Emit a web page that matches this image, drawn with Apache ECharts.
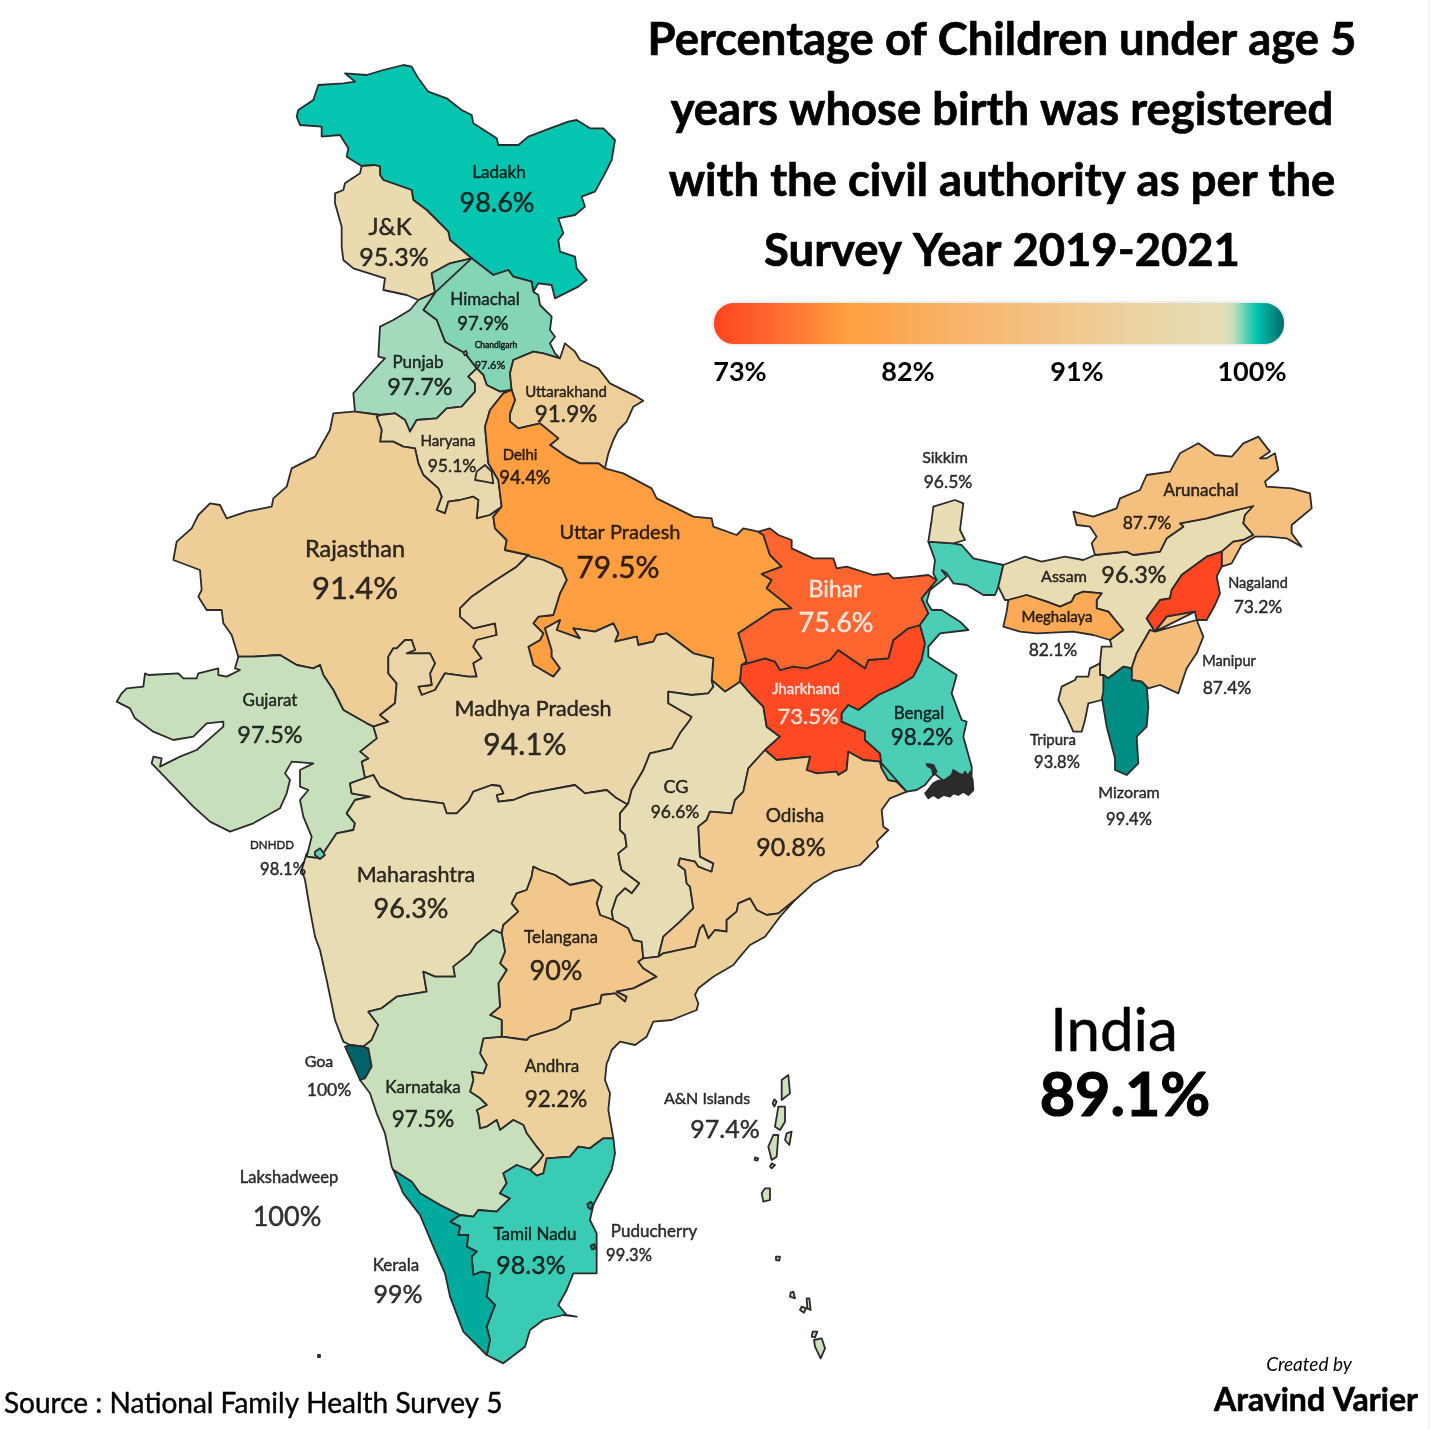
<!DOCTYPE html>
<html><head><meta charset="utf-8">
<style>html,body{margin:0;padding:0;background:#fff}#c{width:1430px;height:1430px}</style>
<script src="https://cdn.jsdelivr.net/npm/echarts@6/dist/echarts.min.js"></script>
</head><body><div id="c"></div>
<script>
// ---------- data ----------
const stateNames = ['Ladakh','J&K','Himachal','Chandigarh','Punjab','Uttarakhand','Haryana','Delhi','Rajasthan','Uttar Pradesh','Bihar','Jharkhand','Bengal','Sikkim','Arunachal','Assam','Nagaland','Meghalaya','Manipur','Tripura','Mizoram','Gujarat','Madhya Pradesh','CG','Odisha','DNHDD','Maharashtra','Telangana','Goa','Karnataka','Andhra','A&N Islands','Lakshadweep','Kerala','Tamil Nadu','Puducherry'];
const stateValues = [98.6,95.3,97.9,97.6,97.7,91.9,95.1,94.4,91.4,79.5,75.6,73.5,98.2,96.5,87.7,96.3,73.2,82.1,87.4,93.8,99.4,97.5,94.1,96.6,90.8,98.1,96.3,90,100,97.5,92.2,97.4,100,99,98.3,99.3];
const legendTicks = ['73%','82%','91%','100%'];
const titleLines = ['Percentage of Children under age 5','years whose birth was registered','with the civil authority as per the','Survey Year 2019-2021'];
const nationalValue = '89.1%';
// colour ramp: [value, colour]
const rampStops = [[73,'#FF4320'],[76,'#FF6A30'],[79.4,'#FF9F40'],[85,'#F8B56C'],[90.5,'#F1C98F'],[92.5,'#ECD29F'],[95,'#E9D9AE'],[97,'#E7DEB6'],[97.5,'#C8DFBC'],[97.7,'#A4DABB'],[97.9,'#84D4B6'],[98.2,'#4CCDB6'],[98.6,'#04C6B0'],[99,'#00AA9C'],[99.4,'#008E84'],[100,'#00636A']];

// ---------- label placement (separate from the values) ----------
const nameAt = [[499,172],[390,226],[485,299],[496,344],[418,362],[566,391],[448,440],[520,454],[355,548],[620,532],[835,589],[806,688],[919,713],[945,457],[1201,490],[1064,576],[1258,582],[1057,616],[1229,660],[1053,739],[1129,792],[270,700],[533,708],[676,786],[795,815],[272,844],[416,874],[561,937],[319,1061],[423,1087],[552,1066],[707,1098],[289,1177],[396,1265],[535,1234],[654,1231]];
const valueAt = [[497,202],[394,256],[483,323],[490,364],[420,386],[566,413],[452,465],[525,477],[355,587],[618,567],[836,622],[808,715],[922,736],[948,481],[1147,522],[1134,574],[1258,606],[1053,649],[1227,687],[1057,761],[1129,818],[270,734],[525,744],[675,811],[791,846],[283,868],[411,908],[556,970],[329,1089],[423,1118],[556,1098],[725,1128],[287,1216],[398,1293],[531,1264],[629,1254]];
const nameSize = [17,24,17,8.5,17,15,15,15,23.5,20,23,15,17,16,17,16,14.5,15,14.5,15,16,17,21.5,18,19,11.5,21.5,17,16,17,17,16,16.5,17,17,17];
const valueSize = [27,25,18.5,11,23.5,22.5,17.5,18.5,31,30,27,22,22.5,17.5,17.5,23.5,17.5,17.5,17.5,16.5,16.5,23.5,30,17.5,25,16.5,27,27,17.5,22.5,22.5,25,27,25,25,16.5];
const whiteLabels = ['Bihar','Jharkhand'];
const heavyOutline = {'A&N Islands':2.6,'Puducherry':3};

// ---------- map outlines ----------
const at = (ox,oy) => (...f) => { const r=[]; for(let i=0;i<f.length;i+=2) r.push([ox+f[i]/3,-(oy+f[i+1]/3)]); return r; };
const A=at(280,60),B=at(110,400),C=at(480,420),D=at(920,430),E=at(300,780),F=at(600,720),G=at(340,1030),H=at(740,1060),Z=at(900,760);
const rev=s=>s.slice().reverse();
const ring=(...s)=>{const r=[].concat(...s); r.push(r[0]); return r;};

const jkLa=A(575,595,510,540,505,515,440,450,400,420,395,390,310,360,300,345,300,320,285,315,245,318);
const laOuter=A(245,318,200,290,205,265,180,225,125,230,125,200,60,195,50,170,55,150,100,120,115,75,190,70,225,65,195,40,260,45,310,30,370,15,395,20,415,55,445,95,500,115,545,150,575,165,580,190,650,235,655,255,715,255,745,230,810,205,865,185,890,180,930,205,970,205,1005,240,995,300,975,340,945,395,905,410,915,440,885,465,835,475,850,520,835,540,840,575,885,590,890,625,920,660,895,680,825,715,815,675,775,670,760,695);
const laHp=A(760,695,755,665,700,650,685,630,640,645,575,595);
const jkOuter=A(245,318,240,340,195,370,190,390,165,400,165,430,185,500,185,560,190,600,220,625,315,655,310,690,380,705,415,720);
const jkPb=A(415,720,465,698);
const jkHp=A(465,698,455,640,510,610,575,595);
const hpEast=A(760,695,775,705,780,735,815,770,810,810,825,830,810,850,825,880,840,895);
const hpUk=A(840,895,790,880,760,875,700,900,690,940,695,990);
const hpHr=A(695,990,660,995,620,975,610,945,590,925);
const hpPb=A(590,925,555,880,520,860,495,845,470,780,430,750,465,698);
const pbOuter=A(415,720,390,750,340,780,300,800,295,890,315,895,300,910,255,960,220,1000,225,1055);
const pbRj=A(225,1055,300,1065);
const pbHr=A(300,1065,345,1060,375,1080,390,1115,410,1080,470,1075,500,1045,545,1040,585,995,585,970,565,950,590,925);
const hrUp=[...A(695,990,670,1000,630,1050,615,1100),...B(1135,190,1165,240,1175,320)];
const hrRj=[...B(1175,320,1140,345,1100,355,1105,300,1090,290,1050,300,1015,305,1005,340,980,330,995,290,985,265,940,225,925,190,915,145,880,140,850,125,810,125,815,90,800,50),...A(300,1065)];
const rjUp=B(1175,320,1150,350,1155,385,1190,420,1185,450,1255,465);
const rjOuter=B(730,35,670,40,660,90,615,170,545,205,530,260,490,295,485,320,410,335,350,355,330,315,300,310,265,345,245,385,200,425,190,480,270,510,275,570,265,590,290,630,335,630,340,670,365,705,385,770);
const rjGj=B(385,770,430,770,510,765,560,795,610,805,630,795,640,825,670,870,700,930,770,970,790,980);
const rjMp=B(790,980,835,965,810,945,855,910,860,850,835,820,835,770,850,745,860,745,885,720,905,720,915,750,890,760,960,760,975,790,960,820,965,855,925,860,935,885,975,870,1005,820,1075,830,1100,830,1090,790,1115,775,1090,740,1100,720,1160,705,1155,670,1090,685,1050,650,1050,625,1085,590,1150,545,1220,500,1255,465);
const upNorth=C(835,335,790,325,770,345,700,320,695,295,640,290,580,260,530,235,515,205,430,160,375,145);
const ukUp=[...C(375,145,355,130,300,130,260,110),...A(810,1155,835,1135,780,1090,715,1105,690,1085,690,1060,705,1020,695,990)];
const upMp=C(150,410,190,420,245,445,260,480,240,520,220,585,175,590,160,610,190,640,180,660,145,680,160,735,220,770,240,745,215,710,215,690,195,625,240,600,230,630,300,655,280,625,345,635,400,610,415,640,405,665,470,650,475,675,520,665,530,645,560,640,640,700,700,715,695,780);
const upCg=C(695,780,735,815,780,785);
const upJh=C(780,785,785,735);
const upBi=C(785,735,800,725,775,640,835,600,880,570,935,565,860,505,875,480,845,462,905,440,870,405,850,345,835,335);
const ukEast=[...A(840,895,855,850,885,875,900,900,955,925,990,970,1070,1010,1090,1022,1060,1040,1040,1085),...C(415,30,400,60,385,100,375,145)];
const mpGj=B(790,980,800,1015,750,1055,775,1075,755,1085,765,1135,790,1125);
const mpMa=[...B(790,1125,810,1160,880,1195,1000,1210,1010,1240),...E(470,100,505,65,520,35,575,15,600,18,610,40,590,45,595,65,640,60,690,40,825,15,855,40,920,30,950,55,985,75)];
const mpCg=[...F(85,250,95,210,130,150,150,100,215,85,240,40,270,0),...C(635,890,565,850,565,815,635,825,685,820,700,800,695,780)];
const gjOuter=B(385,770,375,805,390,810,350,830,325,825,325,805,265,820,260,835,220,835,205,820,115,825,105,820,100,860,50,865,35,880,20,905,60,925,75,955,130,995,190,1020,250,1010,290,970,340,965,340,980,300,1015,260,1050,210,1070,150,1100,155,1075,130,1070,125,1090,250,1220,300,1265,360,1295,430,1270,510,1225,530,1180,540,1140,525,1120,545,1085,610,1090,570,1110,570,1160,595,1170,570,1200,580,1250,605,1310,590,1370);
const gjMa=B(590,1370,630,1375,680,1300,730,1290,735,1270,710,1240,735,1200,780,1190,725,1180,720,1150,790,1125);
const cgMa=F(85,250,60,280,60,330,75,345,80,380,55,400,60,430,65,450,85,465,118,490,95,520,75,505,50,530,35,575,40,600);
const cgTs=F(40,600,85,625,100,660,125,665,130,715);
const cgAp=F(175,710,130,715);
const tsMa=[...F(40,600),...E(900,405,890,370,905,320,880,300,810,315,765,285,720,270,700,260,695,290,680,330,650,340,635,370,655,395,610,435,605,460)];
const kaMa=E(605,460,580,450,530,490,510,520,460,560,465,590,405,590,370,575,380,635,290,650,245,685,205,695,235,735,215,780,190,800,150,795);
const maCoast=[...E(150,795,130,785,105,720,80,600,60,510,45,470,30,390,15,300,5,270,20,220),...B(590,1370)];
const tsAp=E(1030,535,1015,545,1030,565,1070,590,1030,610,1000,625,950,635,980,650,975,665,945,640,905,645,900,670,815,690,810,720,770,745,690,770,680,780,605,770);
const tsKa=E(605,770,605,720,570,705,600,680,595,610,620,570,600,550,615,515,605,460);
const goaEast=[...E(150,795,190,800),...G(85,55,95,110,75,145,60,150)];
const goaCoast=G(60,150,40,105,15,50);
const kaCoast=G(60,150,90,190,110,250,135,310,155,410,160,420);
const kaKl=G(160,420,215,455,240,490,300,525,360,555);
const kaTn=G(360,555,400,560,415,540,470,545,510,505,480,490,500,460,490,430,530,405,570,420);
const kaAp=[...G(570,420,595,395,610,375,590,350,560,310,550,285,520,270,480,300,470,270,440,290,420,295,415,255,410,240,440,225,420,205,390,185,400,150,395,125,430,130,440,105,420,70,430,25),...E(605,770)];
const apTn=G(820,325,790,325,750,355,715,350,690,380,620,385,610,430,590,437,570,420);
const tnCoast=G(820,325,825,370,815,420,760,525,750,570,770,610,770,730,700,730,680,780,655,825,680,855,710,860,670,855,610,870,570,900,555,950,490,1000,440,975);
const tnKl=G(440,975,450,930,440,890,465,825,440,800,450,730,425,725,400,735,395,680,410,665,380,650,385,615,355,615,360,590,330,575,360,555);
const klCoast=G(160,420,190,490,240,555,280,650,315,730,330,800,370,905,440,975);
const apCoast=[...F(585,540,540,590,495,650,450,675,420,710,400,735,340,770,295,805,285,825,295,850,290,870,215,900,160,905,140,950,105,975,60,965,35,990,25,1020),...G(800,100,795,150,810,190,805,240,820,325)];
const apOd=F(175,710,190,700,285,680,300,625,310,615,325,655,345,630,380,635,380,600,410,575,415,550,450,535,470,570,500,585,535,580,585,540);
const odCoast=F(585,540,640,490,700,455,780,435,835,380,830,365,865,330,850,320,845,270,870,235,920,215);
const odBn=F(920,215,890,185,865,180,845,145,840,125);
const jhOd=F(840,125,790,120,745,95,740,150,715,165,710,155,650,160,620,150,630,110,530,120,495,90);
const odCg=F(495,90,445,145,430,215,405,240,395,280,330,275,320,300,295,320,300,410,340,430,335,455,320,450,295,440,285,425,240,415,235,435,255,450,260,490,270,500,280,565,240,605,190,650,175,710);
const cgJh=C(780,785,815,825,850,860,860,920,900,950,855,990);
const biNorth=C(835,335,870,325,895,345,935,360,935,385,1000,415,1060,415,1070,445,1100,440,1180,465,1225,460,1240,475,1300,470,1345,465,1370,480);
const biBn=C(1370,480,1325,535,1345,580,1320,615);
const biJh=C(785,735,855,715,885,725,900,750,940,740,980,745,1050,720,1075,690,1155,745,1165,720,1225,715,1240,660,1285,625,1320,615);
const jhBn=[...C(1320,615,1335,670,1325,720,1300,770,1250,800,1195,825,1135,870,1105,855,1085,880,1085,905,1155,935,1155,960,1200,1000,1205,1035),...F(840,125)];
const bnAs=D(250,405,235,470,225,495);
const bnTop=[...C(1345,365,1420,370),...D(125,345,160,385,250,405)];
const bnEast=[...D(190,495,140,465,100,460,80,430,65,420),...C(1400,470,1350,510,1340,545,1355,570,1385,570,1440,605,1465,630,1380,640,1345,680,1345,710,1430,765,1415,820,1445,900,1460,905,1450,950,1475,1040),...Z(215,45,160,45,130,62,105,42,95,50,75,75,50,90,20,95)];
const asNorth=D(250,405,315,380,365,395,435,380,490,390,525,375,620,365,640,375,720,365,740,325,790,290,780,280,860,265,930,245,1000,228);
const asTip=D(1000,228,975,255,970,280,1000,315,970,330,940,335,905,365);
const asNl=D(905,365,860,380,785,435,755,480,750,505,720,510,680,565,705,605);
const mlNorth=D(265,510,320,495,380,515,420,530,455,515,465,495,490,485,545,490,530,510,530,535,565,545,610,600,570,630);
const mlSouth=D(570,630,520,615,460,605,350,610,300,605,250,590,260,545,265,510);
const asMn=D(705,605,690,600,650,670,635,715);
const asMz=D(635,715,610,710,565,745,550,735);
const asTr=D(550,735,540,735,540,700);
const nlEast=D(905,365,905,410,890,440,900,490,885,525,860,570,830,570,825,545);
const nlMn=D(825,545,740,560,705,605);

const rings = {
 'Ladakh':[ring(laOuter,laHp,jkLa)],
 'J&K':[ring(jkOuter,jkPb,jkHp,jkLa)],
 'Himachal':[ring(rev(laHp),hpEast,hpUk,hpHr,hpPb,rev(jkHp))],
 'Punjab':[ring(pbOuter,pbRj,pbHr,hpPb,rev(jkPb))],
 'Uttarakhand':[ring(ukEast,ukUp,rev(hpUk))],
 'Haryana':[ring(pbHr,rev(hpHr),hrUp,hrRj)],
 'Rajasthan':[ring(rev(pbRj),rjOuter,rjGj,rjMp,rev(rjUp),hrRj)],
 'Uttar Pradesh':[ring(upNorth,ukUp,hrUp,rjUp,upMp,upCg,upJh,upBi)],
 'Madhya Pradesh':[ring(mpGj,mpMa,mpCg,rev(upMp),rev(rjMp))],
 'Gujarat':[ring(gjOuter,gjMa,rev(mpGj),rev(rjGj))],
 'Maharashtra':[ring(mpMa,cgMa,tsMa,kaMa,maCoast,gjMa)],
 'Telangana':[ring(rev(tsMa),cgTs,tsAp,tsKa)],
 'CG':[ring(upCg,cgJh,odCg,cgAp,rev(cgTs),rev(cgMa),mpCg)],
 'Jharkhand':[ring(upJh,biJh,jhBn,jhOd,rev(cgJh))],
 'Odisha':[ring(odCg,apOd,odCoast,odBn,jhOd)],
 'Andhra':[ring(rev(cgAp),apOd,apCoast,apTn,kaAp,rev(tsAp))],
 'Goa':[ring(goaEast,goaCoast)],
 'Karnataka':[ring(rev(kaMa),rev(tsKa),rev(kaAp),rev(kaTn),rev(kaKl),rev(kaCoast),rev(goaEast))],
 'Tamil Nadu':[ring(rev(apTn),tnCoast,tnKl,kaTn)],
 'Kerala':[ring(tnKl,rev(kaKl),klCoast)],
 'Bihar':[ring(biNorth,biBn,rev(biJh),upBi)],
 'Bengal':[ring(bnTop,bnAs.slice(1),bnEast,rev(odBn),rev(jhBn),rev(biBn),C(1360,460,1365,420))],
 // the dark, tightly drawn Sundarbans coast carries no value of its own
 'Sundarbans':[ring(Z(80,95,100,70,115,62,135,60,155,45,160,30,175,40,190,45,195,35,205,50,210,35,218,60,220,90,205,105,190,95,175,105,160,100,150,110,130,105,115,115,100,105,85,115,75,100)),ring(Z(80,12,100,15,110,35,100,45,95,25,82,18))],
 'Sikkim':[ring(C(1360,260,1425,240,1450,250,1440,330,1455,360,1420,370,1345,365,1355,300))],
 'Assam':[ring(asNorth,asTip,asNl,asMn,asMz,asTr,D(545,650,575,650),rev(mlNorth),D(255,510,235,470))],
 'Meghalaya':[ring(mlNorth,mlSouth)],
 'Arunachal':[ring(D(525,375,515,340,530,320,510,290,470,285,460,245,520,260,590,235,600,205,660,180,680,135,750,125,780,70,835,40,885,75,935,80,970,40,1015,20,1050,65,1020,85,1040,85,1065,70,1075,120,1035,155,1040,170,1115,175,1170,190,1175,235,1115,285,1115,310,1145,350,1100,325,1045,320,1005,320,965,345,935,400,905,410,905,365),rev(asTip),rev(asNorth).slice(0,-1).filter(p=>p[0]>=920+525/3))],
 'Nagaland':[ring(nlEast,nlMn,rev(asNl))],
 'Manipur':[ring(rev(nlMn),asMn,D(635,750,665,755,685,775,720,765,775,790,800,715,830,670,850,620,830,570))],
 'Mizoram':[ring(rev(asMz),D(635,750,665,755,680,770,685,830,680,890,650,920,655,1000,620,1035,585,1020,585,985,560,890,545,800))],
 'Tripura':[ring(D(540,700,540,735,550,735,550,785,545,810,505,820,495,870,485,905,460,905,440,860,415,810,425,770,465,750,470,740,505,740,510,715))],
 'Delhi':[ring(B(1125,195,1145,215,1150,250,1125,245,1095,240,1100,215))],
 'Chandigarh':[ring(A(550,878,558,872,562,882,554,886))],
 'DNHDD':[ring(E(45,215,60,205,75,225,60,237,45,225))],
 'Lakshadweep':[ring([[318,-1355],[320,-1355],[320,-1357],[318,-1357]])],
 'Puducherry':[ring(G(742,522,752,515,760,525,752,538,744,532)),ring(G(752,647,763,642,766,656,756,658))],
 'A&N Islands':[H(125,60,145,45,150,100,125,120),H(115,140,135,140,135,185,120,210,105,200),H(100,225,115,225,110,290,95,300,85,260),H(95,310,105,315,95,325,90,320),H(103,118,110,125,103,140,98,130),H(140,220,155,215,148,255,135,240),H(45,292,55,295,52,302,44,300),H(75,385,90,385,90,420,70,425,65,400),H(108,590,120,590,118,602,108,600),H(152,698,160,695,165,715,150,710),H(185,740,198,745,192,758,180,750),H(200,715,208,715,212,750,202,745),H(222,840,245,835,255,865,242,895,225,860),H(218,815,232,815,225,832,215,830)].map(r=>ring(r))
};
const indiaGeo = {type:'FeatureCollection',features:Object.keys(rings).map(name=>({type:'Feature',properties:{name},geometry:{type:'MultiPolygon',coordinates:rings[name].map(r=>[r])}}))};

// ---------- build ----------
echarts.registerMap('india', indiaGeo);
const chart = echarts.init(document.getElementById('c'), null, {renderer:'canvas', width:1430, height:1430});
const FONT = 'Lato';
const rampAt = v => {
  for (let i=1;i<rampStops.length;i++) if (v<=rampStops[i][0]) {
    const [a,ca]=rampStops[i-1],[b,cb]=rampStops[i];
    return echarts.color.lerp((v-a)/(b-a),[ca,cb]);
  }
  return rampStops[rampStops.length-1][1];
};
const rampMin=rampStops[0][0], rampMax=rampStops[rampStops.length-1][0];
const rampColors=[]; for(let i=0;i<=270;i++) rampColors.push(rampAt(rampMin+i/10));
const text=(t,x,y,size,opts={})=>({type:'text',x,y,silent:true,style:Object.assign({text:t,fontFamily:FONT,fontSize:size,fill:'#000',align:'center',verticalAlign:'middle'},opts)});
const tickX=[740,908,1077,1252];
const inkOf=n=>whiteLabels.includes(n)?'#fff':'#000';
const labelStyle=(size,ink)=>({fontSize:size,color:ink,textBorderColor:ink,textBorderWidth:0.45});
chart.setOption({
  animation:false,
  backgroundColor:'#fff',
  title:{text:titleLines.join('\n'),left:997,top:0,textAlign:'center',textStyle:{fontFamily:FONT,fontSize:45.4,fontWeight:'bold',color:'#000',lineHeight:70.5,textBorderColor:'#000',textBorderWidth:0.7}},
  visualMap:{show:false,type:'continuous',min:rampMin,max:rampMax,seriesIndex:0,inRange:{color:rampColors}},
  geo:{map:'india',aspectScale:1,boundingCoords:[[0,0],[1430,-1430]],left:0,top:0,width:1430,height:1430,roam:false,silent:true,
    itemStyle:{borderColor:'#2b2b2b',borderWidth:1.8,borderJoin:'round',areaColor:'#2b2b2b'},label:{show:false},emphasis:{disabled:true}},
  series:[
    {type:'map',geoIndex:0,name:'Registered births',data:stateNames.map((n,i)=>({name:n,value:stateValues[i],itemStyle:heavyOutline[n]?{borderWidth:heavyOutline[n]}:undefined}))},
    {type:'scatter',coordinateSystem:'geo',geoIndex:0,silent:true,symbolSize:0,name:'State names',z:5,
      label:{show:true,position:'inside',offset:[0,1],formatter:'{b}',fontFamily:FONT},
      data:stateNames.map((n,i)=>({name:n,value:[nameAt[i][0],-nameAt[i][1]],label:labelStyle(nameSize[i],inkOf(n))}))},
    {type:'scatter',coordinateSystem:'geo',geoIndex:0,silent:true,symbolSize:0,name:'State values',z:5,
      label:{show:true,position:'inside',offset:[0,1.5],formatter:'{b}',fontFamily:FONT},
      data:stateNames.map((n,i)=>({name:stateValues[i]+'%',value:[valueAt[i][0],-valueAt[i][1]],label:labelStyle(valueSize[i],inkOf(n))}))}
  ],
  graphic:[
    {type:'rect',silent:true,shape:{x:1428,y:0,width:2,height:1430},style:{fill:'#f4f4f4'}},
    {type:'rect',silent:true,shape:{x:713,y:302,width:572,height:43,r:21},
     style:{stroke:'#eceef0',lineWidth:2,fill:new echarts.graphic.LinearGradient(0,0,1,0,rampStops.map(([v,c])=>({offset:(v-rampMin)/(rampMax-rampMin),color:c})))}},
    ...legendTicks.map((t,i)=>text(t,tickX[i],372,27,{fontWeight:'bold'})),
    text('India',1114,1032,60,{stroke:'#000',lineWidth:0.5}),
    text(nationalValue,1125,1096,61,{fontWeight:'bold',stroke:'#000',lineWidth:1.2}),
    text('Source : National Family Health Survey 5',4,1404,28,{align:'left',stroke:'#000',lineWidth:0.4}),
    text('Created by',1309,1365,19,{fontStyle:'italic'}),
    text('Aravind Varier',1316,1401,32,{fontWeight:'bold',stroke:'#000',lineWidth:0.6})
  ]
});
</script></body></html>
